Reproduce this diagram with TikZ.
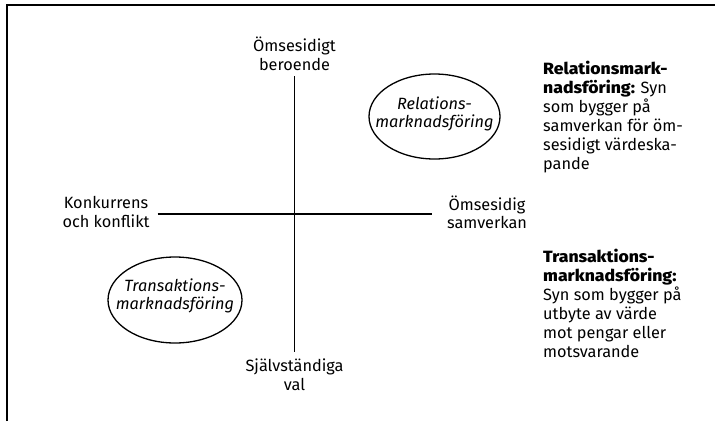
\documentclass[tikz,border=0pt]{standalone}
\usepackage{fontspec}
\setmainfont{Fira Sans}[BoldFont={Fira Sans ExtraBold},BoldFeatures={FakeStretch=1.08}]
\usetikzlibrary{shapes.geometric}
\begin{document}
\begin{tikzpicture}[x=1pt,y=-1pt,
  lbl/.style={inner sep=0pt,align=center,font=\fontsize{16.3}{18.5}\selectfont},
  side/.style={inner sep=0pt,align=left,anchor=north west,font=\fontsize{16.3}{19}\selectfont},
  ovaltext/.style={inner sep=0pt,align=center,font=\fontsize{16.3}{18.5}\selectfont\itshape},
  oval/.style={line width=1.3pt},
  axis/.style={line width=1.3pt}]
\useasboundingbox (0,0) rectangle (715,421);
\fill[white] (0,0) rectangle (715,421);
% frame
\coordinate (fb) at (7,421);
\coordinate (fc) at (7,5);
\coordinate (fr) at (715,5);
\draw[line width=2pt] (fb) -- (fc) -- (fr);
% axes
\coordinate (vt) at (294.5,76);
\coordinate (vb) at (294.5,352);
\coordinate (hl) at (157.5,214);
\coordinate (hr) at (431.5,214);
\draw[axis] (vt) -- (vb);
\draw[axis] (hl) -- (hr);
% axis labels
\node[lbl] (top) at (294.5,54) {Ömsesidigt\\beroende};
\node[lbl] (left) at (106,212) {Konkurrens\\och konflikt};
\node[lbl] (right) at (487,212.5) {Ömsesidig\\samverkan};
\node[lbl] (bottom) at (294.5,374.5) {Självständiga\\val};
% ellipses
\node[ovaltext] (rel) at (434.5,114) {Relations-\\marknadsföring};
\draw[oval] (434.5,116.5) ellipse [x radius=65.5, y radius=42.5];
\node[ovaltext] (tra) at (175,296) {Transaktions-\\marknadsföring};
\draw[oval] (175,300) ellipse [x radius=67, y radius=43];
% side texts
\node[side] (reltext) at (543,61) {\textbf{Relationsmark-}\\\textbf{nadsföring:} Syn\\som bygger på\\samverkan för öm-\\sesidigt värdeska-\\pande};
\node[side] (tratext) at (543,249) {\textbf{Transaktions-}\\\textbf{marknadsföring:}\\Syn som bygger på\\utbyte av värde\\mot pengar eller\\motsvarande};
\end{tikzpicture}
\end{document}
